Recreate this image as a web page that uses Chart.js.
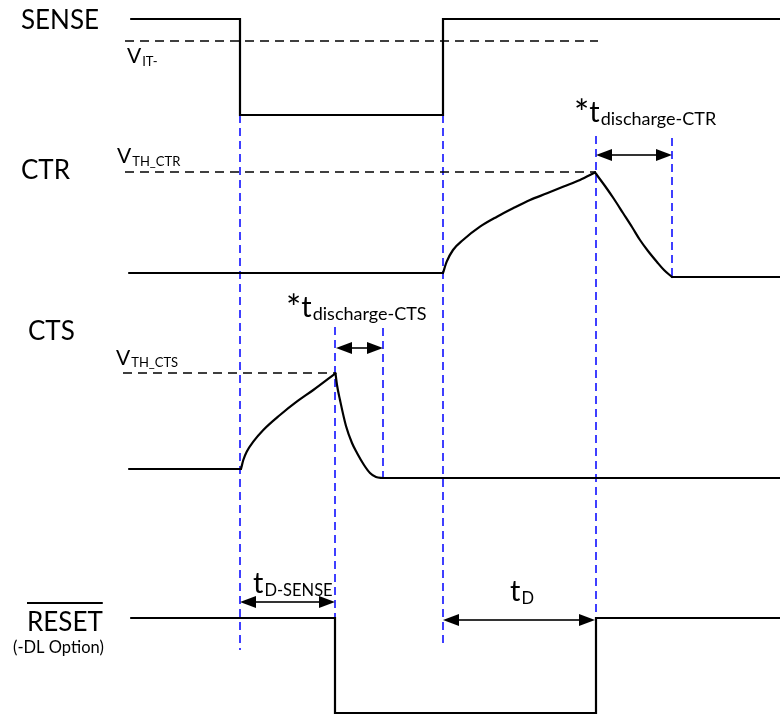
<!DOCTYPE html>
<html>
<head>
<meta charset="utf-8">
<script src="https://cdn.jsdelivr.net/npm/chart.js@4/dist/chart.umd.min.js"></script>
<style>
html,body{margin:0;padding:0;background:#fff;}
#wrap{width:780px;height:714px;}
</style>
</head>
<body>
<div id="wrap"><canvas id="c" width="780" height="714"></canvas></div>
<script>
// ---- Data (time axis in arbitrary units, level axis top-down) ----
const senseT = [131, 240, 240, 443, 443, 780];
const senseV = [19, 19, 115, 115, 19, 19];

// CTR: flat low, charging curve, discharge curve, flat low
const ctrLowT = [129, 443];
const ctrLowV = [273, 273];
const ctrRiseT = [443, 446.7, 453, 463, 480, 497, 513, 530, 547, 563, 580, 595];
const ctrRiseV = [273, 261.7, 250, 240, 226.7, 216.7, 208.3, 200, 193.3, 186.7, 180, 172.5];
const ctrFallT = [595, 605, 614, 623, 632, 640, 648, 657, 664, 672];
const ctrFallV = [172.5, 186, 199, 213, 227, 240, 251, 262, 270, 277];
const ctrEndT = [672, 780];
const ctrEndV = [277, 277];

// CTS
const ctsLowT = [129, 241];
const ctsLowV = [469, 469];
const ctsRiseT = [241, 243.3, 246.7, 253.3, 263.3, 280, 296.7, 313.3, 335.5];
const ctsRiseV = [469, 460, 451.7, 441.7, 430, 415, 401.7, 390, 373.3];
const ctsFallT = [335.5, 337, 340, 346, 352, 357, 364, 370, 376, 383];
const ctsFallV = [373.3, 385, 400, 426, 443, 453, 465, 473, 477, 478];
const ctsEndT = [383, 780];
const ctsEndV = [478, 478];

const resetT = [131, 335, 335, 596, 596, 780];
const resetV = [618, 618, 713, 713, 618, 618];

// threshold lines: start, end, level
const thrStart = [125, 125, 123];
const thrEnd = [598, 596, 335];
const thrLevel = [41, 172, 373];

// blue timing marker lines
const markerT = [240, 335, 383, 443, 596, 672];
const markerTop = [115, 327, 328, 115, 136, 138];
const markerBottom = [650, 713, 479, 644, 637, 277];

// interval arrows
const arrowStart = [240, 336, 443, 596];
const arrowEnd = [335, 383, 595, 672];
const arrowLevel = [602, 348, 620, 155];

const FONT = 'Lato, "Open Sans", sans-serif';

function pts(t, v){ return t.map((x,i)=>({x:x, y:v[i]})); }

const datasets = [];
function solid(t, v, smooth){
  const ds = {data:pts(t,v), borderColor:'#000', borderWidth:2.2, pointRadius:0, tension:0, clip:false, borderJoinStyle:'miter', borderCapStyle:'round'};
  if (smooth) ds.cubicInterpolationMode = 'monotone';
  datasets.push(ds);
}
solid(senseT, senseV, false);
solid(ctrLowT, ctrLowV, false);
solid(ctrRiseT, ctrRiseV, true);
solid(ctrFallT, ctrFallV, true);
solid(ctrEndT, ctrEndV, false);
solid(ctsLowT, ctsLowV, false);
solid(ctsRiseT, ctsRiseV, true);
solid(ctsFallT, ctsFallV, true);
solid(ctsEndT, ctsEndV, false);
solid(resetT, resetV, false);

thrLevel.forEach((lv,i)=>{
  datasets.push({data:[{x:thrStart[i],y:lv},{x:thrEnd[i],y:lv}], borderColor:'#000', borderWidth:1.3, borderDash:[9,6], pointRadius:0, clip:false});
});
markerT.forEach((t,i)=>{
  datasets.push({data:[{x:t,y:markerTop[i]},{x:t,y:markerBottom[i]}], borderColor:'#0000ff', borderWidth:1.5, borderDash:[8,5], pointRadius:0, clip:false});
});

const annot = {
  id:'annot',
  afterDatasetsDraw(chart){
    const ctx = chart.ctx, xs = chart.scales.x, ys = chart.scales.y;
    const X = v=>xs.getPixelForValue(v), Y = v=>ys.getPixelForValue(v);
    ctx.save();
    // arrows
    arrowStart.forEach((s,i)=>{
      const x0 = X(s), x1 = X(arrowEnd[i]), y = Y(arrowLevel[i]);
      const hl = 16, hw = 6;
      ctx.strokeStyle = '#333'; ctx.lineWidth = 2;
      ctx.beginPath(); ctx.moveTo(x0+hl-2,y); ctx.lineTo(x1-hl+2,y); ctx.stroke();
      ctx.fillStyle = '#000';
      ctx.beginPath(); ctx.moveTo(x0,y); ctx.lineTo(x0+hl,y-hw); ctx.lineTo(x0+hl,y+hw); ctx.closePath(); ctx.fill();
      ctx.beginPath(); ctx.moveTo(x1,y); ctx.lineTo(x1-hl,y-hw); ctx.lineTo(x1-hl,y+hw); ctx.closePath(); ctx.fill();
    });
    // text
    ctx.fillStyle = '#000'; ctx.textBaseline = 'alphabetic'; ctx.textAlign = 'left';
    function txt(s, x, y, size){ ctx.font = size+'px '+FONT; ctx.fillText(s, x, y); return ctx.measureText(s).width; }
    function sub(main, s, x, y, size, ssize, dy){
      const w = txt(main, x, y, size);
      txt(s, x+w+1, y+dy, ssize);
    }
    function starSub(s, x, y){
      const w0 = txt('*', x, y+4, 36);
      sub('t', s, x+w0, y, 29, 18, 3);
    }
    txt('SENSE', 21, 29, 26);
    txt('CTR', 21, 179, 26);
    txt('CTS', 28, 340, 26);
    const rw = txt('RESET', 27, 631, 26);
    ctx.strokeStyle = '#000'; ctx.lineWidth = 2;
    ctx.beginPath(); ctx.moveTo(27,603); ctx.lineTo(27+rw,603); ctx.stroke();
    txt('(-DL Option)', 13, 653, 16.5);
    sub('V','IT-',127,63,21,13,3);
    sub('V','TH_CTR',117,163,21,13,3);
    sub('V','TH_CTS',116,365,21,13,2);
    starSub('discharge-CTS',286,317);
    starSub('discharge-CTR',574,122);
    sub('t','D-SENSE',253,593,29,16.5,3);
    sub('t','D',510,601,29,16.5,3);
    ctx.restore();
  }
};

new Chart(document.getElementById('c'), {
  type:'line',
  data:{datasets:datasets},
  options:{
    responsive:false, animation:false,
    layout:{padding:0},
    plugins:{legend:{display:false}, tooltip:{enabled:false}},
    scales:{
      x:{type:'linear', min:0, max:780, display:false},
      y:{type:'linear', min:0, max:714, reverse:true, display:false}
    }
  },
  plugins:[annot]
});
</script>
</body>
</html>
